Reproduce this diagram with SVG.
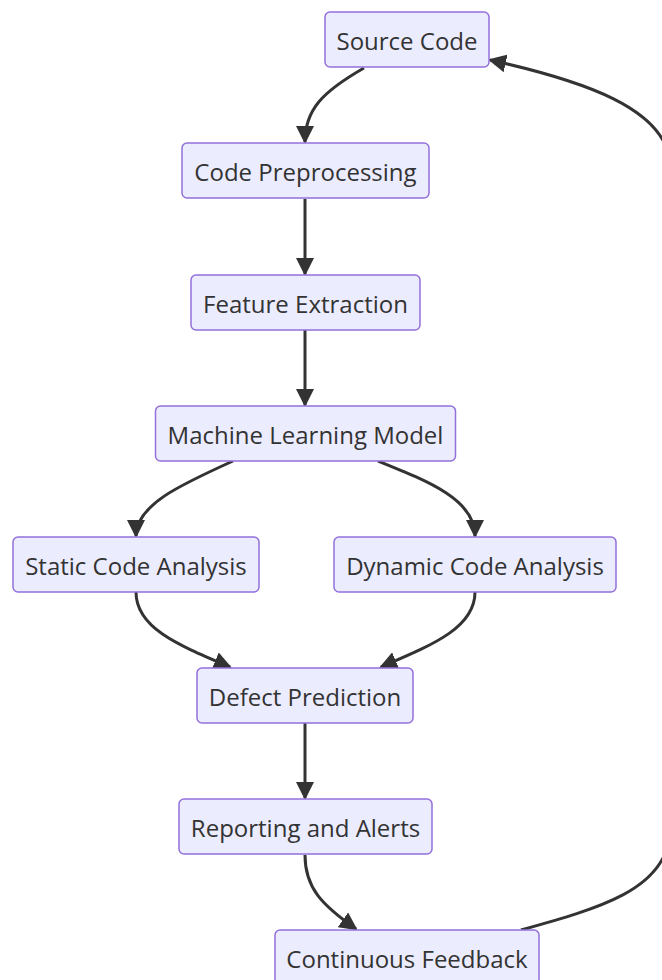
<svg xmlns="http://www.w3.org/2000/svg" width="662" height="980" viewBox="0 0 662 980">
  <style>
    .node rect { fill: #ECECFF; stroke: #9370DB; stroke-width: 1.5; }
    .node text { font-family: "Open Sans", "Noto Sans", sans-serif; font-size: 24px; fill: #333333; text-anchor: middle; dominant-baseline: central; }
    .edge { fill: none; stroke: #333333; stroke-width: 3; }
  </style>
  <defs>
    <marker id="arrow" viewBox="0 0 18 18" refX="16" refY="9" markerWidth="18" markerHeight="18" markerUnits="userSpaceOnUse" orient="auto">
      <path d="M0,0 L18,9 L0,18 z" fill="#333333"/>
    </marker>
  </defs>

  <!-- connectors -->
  <g id="edges">
    <path class="edge" marker-end="url(#arrow)" d="M364,68 C322,92 305,110 305,142"/>
    <path class="edge" marker-end="url(#arrow)" d="M305,199 L305,274"/>
    <path class="edge" marker-end="url(#arrow)" d="M305,330 L305,405"/>
    <path class="edge" marker-end="url(#arrow)" d="M233,461 C180,485 136,505 136,536"/>
    <path class="edge" marker-end="url(#arrow)" d="M378,461 C430,482 475,500 475,536"/>
    <path class="edge" marker-end="url(#arrow)" d="M136,592 C136,628 178,645 230,667"/>
    <path class="edge" marker-end="url(#arrow)" d="M475,592 C475,628 432,645 381,667"/>
    <path class="edge" marker-end="url(#arrow)" d="M305,723 L305,798"/>
    <path class="edge" marker-end="url(#arrow)" d="M305,855 C305,888 322,905 356,929"/>
    <path class="edge" marker-end="url(#arrow)" d="M521,930 C600,908 664,890 670,835 L670,165 C668,108 580,80 490,60"/>
  </g>

  <g id="source-code" class="node">
    <rect x="325" y="12" width="164" height="55" rx="5"/>
    <text x="407" y="40">Source Code</text>
  </g>
  <g id="code-preprocessing" class="node">
    <rect x="182" y="143" width="247" height="55" rx="5"/>
    <text x="305.5" y="171">Code Preprocessing</text>
  </g>
  <g id="feature-extraction" class="node">
    <rect x="191" y="275" width="229" height="55" rx="5"/>
    <text x="305.5" y="303">Feature Extraction</text>
  </g>
  <g id="ml-model" class="node">
    <rect x="155.5" y="406" width="300" height="55" rx="5"/>
    <text x="305.5" y="434">Machine Learning Model</text>
  </g>
  <g id="static-analysis" class="node">
    <rect x="13" y="537" width="246" height="55" rx="5"/>
    <text x="136" y="565">Static Code Analysis</text>
  </g>
  <g id="dynamic-analysis" class="node">
    <rect x="334" y="537" width="282" height="55" rx="5"/>
    <text x="475" y="565">Dynamic Code Analysis</text>
  </g>
  <g id="defect-prediction" class="node">
    <rect x="197" y="668" width="216" height="55" rx="5"/>
    <text x="305" y="696">Defect Prediction</text>
  </g>
  <g id="reporting-alerts" class="node">
    <rect x="179" y="799" width="253" height="55" rx="5"/>
    <text x="305.5" y="827">Reporting and Alerts</text>
  </g>
  <g id="continuous-feedback" class="node">
    <rect x="275" y="930" width="264" height="55" rx="5"/>
    <text x="407" y="958">Continuous Feedback</text>
  </g>
</svg>
